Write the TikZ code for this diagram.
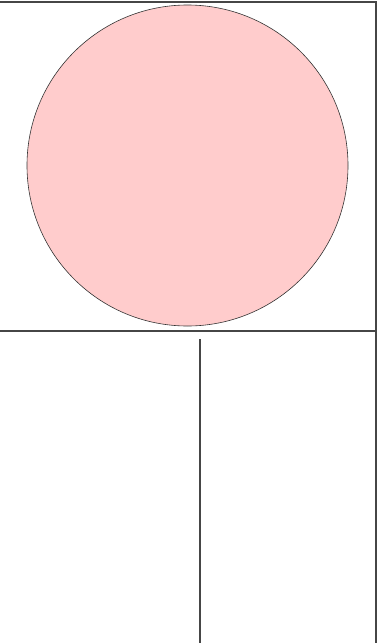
\documentclass[tikz,border=0pt]{standalone}
\usepackage{xcolor}
\definecolor{ballpink}{RGB}{255,204,204}
\definecolor{rulegray}{RGB}{70,70,70}
\begin{document}
\begin{tikzpicture}[
  x=1pt, y=-1pt,
  frame/.style={draw=rulegray, line width=1.4pt},
  ball/.style={circle, draw=black!80, line width=0.6pt, fill=ballpink, minimum size=321pt, inner sep=0pt}
]
\useasboundingbox (0,0) rectangle (379,643);
% top panel
\node (ball) [ball] at (187.5,165.5) {};
\coordinate (tl) at (0,2);
\coordinate (tr) at (376,2);
\coordinate (ml) at (0,331);
\coordinate (mr) at (376,331);
\coordinate (br) at (376,643);
\draw [frame] (tl) -- (tr) -- (br);
\draw [frame] (ml) -- (mr);
% bottom panel
\coordinate (stemtop) at (200,339);
\coordinate (stembot) at (200,643);
\draw [frame] (stemtop) -- (stembot);
\end{tikzpicture}
\end{document}
